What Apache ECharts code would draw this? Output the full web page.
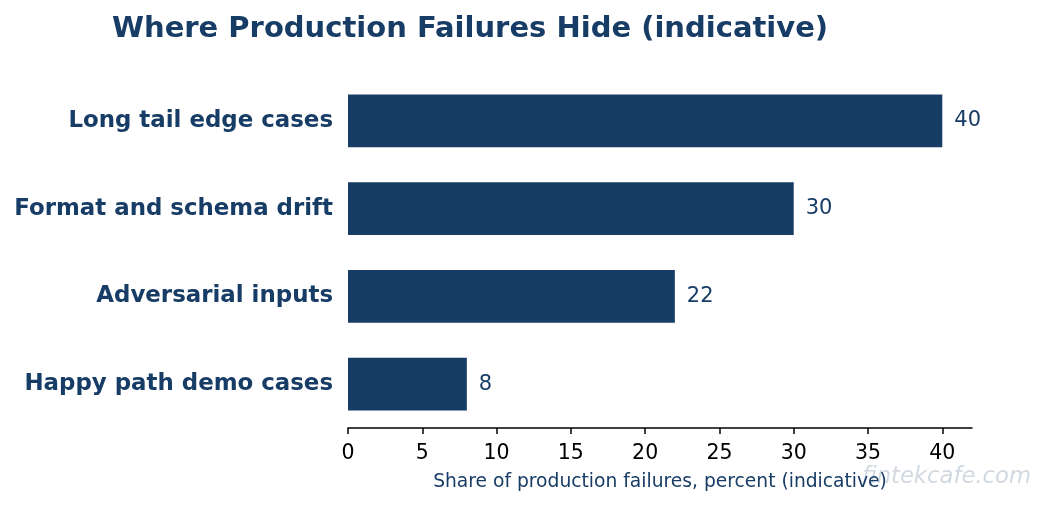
<!DOCTYPE html>
<html>
<head>
<meta charset="utf-8">
<script src="https://cdn.jsdelivr.net/npm/echarts@6/dist/echarts.min.js"></script>
<style>
  html, body { margin: 0; padding: 0; background: #fff; }
  #chart { width: 1046px; height: 505px; }
</style>
</head>
<body>
<div id="chart"></div>
<script>
const categories = ['Long tail edge cases', 'Format and schema drift', 'Adversarial inputs', 'Happy path demo cases'];
const shares = [40, 30, 22, 8];
const xTicks = [0, 5, 10, 15, 20, 25, 30, 35, 40];

const navy = '#173c66';
const font = 'DejaVu Sans';

const chart = echarts.init(document.getElementById('chart'));

const option = {
  backgroundColor: '#fff',
  animation: false,
  textStyle: { fontFamily: font },
  title: {
    text: 'Where Production Failures Hide (indicative)',
    left: 107,
    top: 10,
    textStyle: { fontFamily: font, fontSize: 29, fontWeight: 'bold', color: navy }
  },
  grid: {
    left: 348,
    right: 74,
    top: 77,
    bottom: 77
  },
  xAxis: {
    type: 'value',
    min: 0,
    max: 42,
    interval: 5,
    splitLine: { show: false },
    axisLine: { show: true, lineStyle: { color: '#000', width: 1.5 } },
    axisTick: { show: true, length: 6, lineStyle: { color: '#000', width: 1.5 }, customValues: xTicks },
    axisLabel: { fontFamily: font, fontSize: 20.5, color: '#000', margin: 15, customValues: xTicks },
    name: 'Share of production failures, percent (indicative)',
    nameLocation: 'middle',
    nameGap: 45,
    nameTextStyle: { fontFamily: font, fontSize: 18.7, color: navy }
  },
  yAxis: {
    type: 'category',
    data: categories,
    inverse: true,
    axisLine: { show: false },
    axisTick: { show: false },
    axisLabel: { fontFamily: font, fontSize: 22.9, fontWeight: 'bold', color: navy, margin: 15, padding: [10, 0, 0, 0] }
  },
  series: [{
    type: 'bar',
    data: shares,
    barWidth: '60%',
    itemStyle: { color: navy },
    label: {
      show: true,
      position: 'right',
      distance: 12,
      fontFamily: font,
      fontSize: 21,
      color: navy
    }
  }],
  graphic: [{
    type: 'text',
    right: 15,
    top: 466,
    style: {
      text: 'fintekcafe.com',
      font: 'italic 22.7px "DejaVu Sans"',
      fill: 'rgba(23, 60, 102, 0.2)'
    }
  }]
};

chart.setOption(option);
</script>
</body>
</html>
